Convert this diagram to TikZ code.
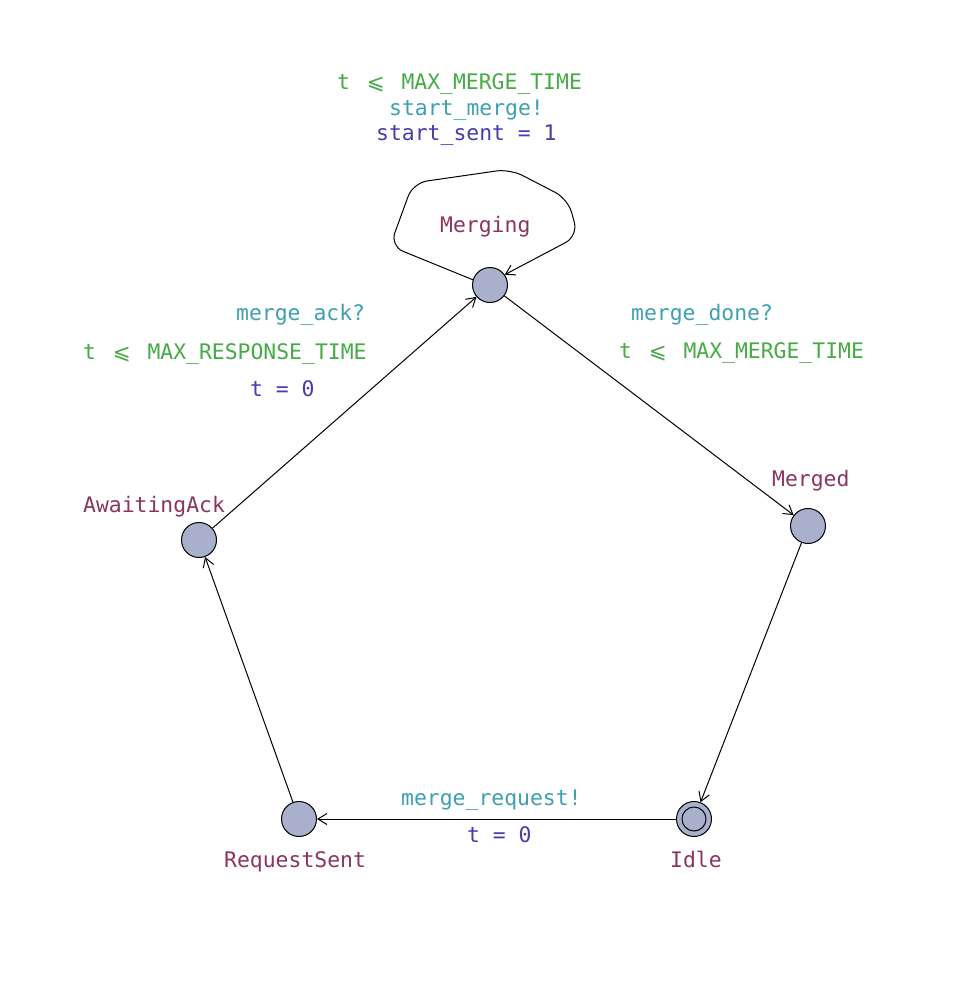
\documentclass[tikz,border=0pt]{standalone}
\usepackage{fontspec}
\setmonofont{DejaVu Sans Mono}
\newfontfamily\symfont{DejaVu Sans}
\usetikzlibrary{arrows.meta}
\definecolor{locname}{RGB}{140,52,96}
\definecolor{guardc}{RGB}{70,170,70}
\definecolor{syncc}{RGB}{60,160,176}
\definecolor{updc}{RGB}{70,60,170}
\definecolor{locfill}{RGB}{169,176,204}
\newcommand{\leqs}{\makebox[1.2em][c]{\symfont ⩽}}
\tikzset{
  loc/.style={circle,draw=black,fill=locfill,line width=1pt,minimum size=35pt,inner sep=0pt},
  lbl/.style={font=\ttfamily\fontsize{21.4}{25}\selectfont,inner sep=0pt,anchor=base west},
  edge/.style={line width=1pt,-{Straight Barb[length=9pt,width=11pt,line width=1pt]}},
}
\begin{document}
\begin{tikzpicture}[x=1pt,y=-1pt]
\useasboundingbox (0,0) rectangle (966,987);
\node[loc] (merging) at (490,285) {};
\node[loc] (merged) at (808,526) {};
\node[loc] (idle) at (694,819) {};
\node[circle,draw=black,line width=1pt,minimum size=24pt,inner sep=0pt] (idlein) at (694,819) {};
\node[loc] (reqsent) at (299,819) {};
\node[loc] (await) at (199,540) {};

% location names
\node[lbl,text=locname] (nmerging) at (440,232) {Merging};
\node[lbl,text=locname] (nmerged) at (772,486) {Merged};
\node[lbl,text=locname] (nawait) at (83,512) {AwaitingAck};
\node[lbl,text=locname] (nreq) at (224,867) {RequestSent};
\node[lbl,text=locname] (nidle) at (670,867) {Idle};

% self loop labels
\node[lbl,text=guardc] (g1) at (337,90) {t \leqs{} MAX\_MERGE\_TIME};
\node[lbl,text=syncc] (s1) at (389,116) {start\_merge!};
\node[lbl,text=updc] (u1) at (376,141) {start\_sent = 1};

% await -> merging labels
\node[lbl,text=syncc] (s2) at (236,320) {merge\_ack?};
\node[lbl,text=guardc] (g2) at (83,359) {t \leqs{} MAX\_RESPONSE\_TIME};
\node[lbl,text=updc] (u2) at (250,396) {t = 0};

% merging -> merged labels
\node[lbl,text=syncc] (s3) at (631,320) {merge\_done?};
\node[lbl,text=guardc] (g3) at (619,358) {t \leqs{} MAX\_MERGE\_TIME};

% idle -> reqsent labels
\node[lbl,text=syncc] (s4) at (401,805) {merge\_request!};
\node[lbl,text=updc] (u4) at (467,842) {t = 0};

% edges
\draw[edge] (merging) -- (merged);
\draw[edge] (merged) -- (idle);
\draw[edge] (idle) -- (reqsent);
\draw[edge] (reqsent) -- (await);
\draw[edge] (await) -- (merging);
\draw[edge,rounded corners=14pt] (merging.163) -- (390,246) -- (413,183) -- (510,169) -- (568,199) -- (578,236) -- (merging.35);
\end{tikzpicture}
\end{document}
